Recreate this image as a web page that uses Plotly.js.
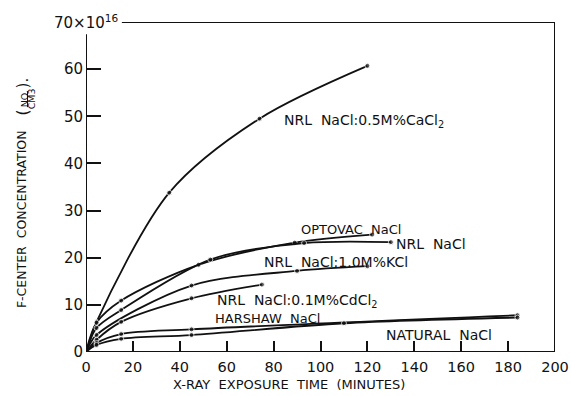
<!DOCTYPE html>
<html>
<head>
<meta charset="utf-8">
<script src="https://cdn.plot.ly/plotly-3.0.1.min.js"></script>
<style>html,body{margin:0;padding:0;background:#fff;}#chart{width:571px;height:396px;}</style>
</head>
<body>
<div id="chart"></div>
<script>
// ---- data ----
const timeCaCl2 = [1.5, 4.5, 35.5, 74, 120];
const concCaCl2 = [2.3, 6.4, 33.8, 49.5, 60.7];

const timeOptovac = [0, 4.5, 15, 48, 89, 122];
const concOptovac = [0, 6.2, 10.9, 18.5, 23.2, 24.9];

const timeNrl = [0, 4.5, 15, 53, 93, 130];
const concNrl = [0, 5.1, 8.9, 19.6, 23.1, 23.3];

const timeKCl = [0, 4.5, 45, 90, 120];
const concKCl = [0, 3.6, 14.1, 17.2, 18.2];

const timeCdCl2 = [0, 4.5, 15, 45, 75];
const concCdCl2 = [0, 2.6, 6.4, 11.4, 14.3];

const timeHarshaw = [0, 4.5, 15, 45, 184];
const concHarshaw = [0, 1.9, 3.8, 4.8, 7.8];

const timeNatural = [0, 4.5, 15, 45, 110, 184];
const concNatural = [0, 1.5, 2.8, 3.6, 6.1, 7.3];

const xTickVals = [0, 20, 40, 60, 80, 100, 120, 140, 160, 180, 200];
const yTickVals = [0, 10, 20, 30, 40, 50, 60];

const seriesLabels = [
  {text: 'NRL  NaCl:0.5M%CaCl<sub>2</sub>', x: 83.5, y: 48.9, size: 14},
  {text: 'OPTOVAC  NaCl', x: 91, y: 26.0, size: 13},
  {text: 'NRL  NaCl', x: 131.5, y: 23.0, size: 14},
  {text: 'NRL  NaCl:1.0M%KCl', x: 75, y: 19.0, size: 14},
  {text: 'NRL  NaCl:0.1M%CdCl<sub>2</sub>', x: 55, y: 10.9, size: 14},
  {text: 'HARSHAW  NaCl', x: 54, y: 7.1, size: 13},
  {text: 'NATURAL  NaCl', x: 127, y: 3.6, size: 14}
];

// ---- chart ----
const FONT = 'DejaVu Sans, Liberation Sans, Arial, sans-serif';
function series(xs, ys) {
  return {
    x: xs, y: ys, type: 'scatter', mode: 'lines+markers',
    line: {color: '#111', width: 1.8, shape: 'spline', smoothing: 0.9},
    marker: {color: '#111', size: xs.map((v, i) => i === 0 ? 0 : 5)},
    hoverinfo: 'skip', showlegend: false
  };
}
const data = [
  series(timeCaCl2, concCaCl2),
  series(timeOptovac, concOptovac),
  series(timeNrl, concNrl),
  series(timeKCl, concKCl),
  series(timeCdCl2, concCdCl2),
  series(timeHarshaw, concHarshaw),
  series(timeNatural, concNatural)
];

const frame = {color: '#111', width: 2};
const shapes = [
  {type: 'line', xref: 'x', yref: 'y', x0: 0, y0: 0, x1: 200, y1: 0, line: frame},
  {type: 'line', xref: 'x', yref: 'y', x0: 200, y0: 0, x1: 200, y1: 70, line: frame},
  {type: 'line', xref: 'x', yref: 'y', x0: 15.3, y0: 70, x1: 200, y1: 70, line: frame},
  {type: 'line', xref: 'x', yref: 'y', x0: 0, y0: 0, x1: 0, y1: 67.4, line: frame},
  // fraction bar of the y-axis unit
  {type: 'line', xref: 'paper', yref: 'paper', x0: -0.1247, y0: 0.742, x1: -0.1247, y1: 0.79,
   line: {color: '#111', width: 1}}
];

const annotations = seriesLabels.map(l => ({
  text: l.text, x: l.x, y: l.y, xref: 'x', yref: 'y',
  xanchor: 'left', yanchor: 'middle', showarrow: false,
  font: {family: FONT, size: l.size, color: '#111'}
}));
function rot(text, x, y, yanchor, size) {
  return {text: text, xref: 'paper', yref: 'paper', x: x, y: y, xanchor: 'center',
    yanchor: yanchor, textangle: -90, showarrow: false,
    font: {family: FONT, size: size, color: '#111'}};
}
annotations.push({
  text: '70×10<sup>16</sup>', xref: 'paper', yref: 'y', x: -0.005, y: 70,
  xanchor: 'right', yanchor: 'middle', showarrow: false, xshift: 36,
  font: {family: FONT, size: 15, color: '#111'}
});
annotations.push({
  text: 'X-RAY  EXPOSURE  TIME  (MINUTES)', xref: 'paper', yref: 'paper',
  x: 0.433, y: -0.097, xanchor: 'center', yanchor: 'middle', showarrow: false,
  font: {family: FONT, size: 13, color: '#111'}
});
annotations.push(rot('F-CENTER  CONCENTRATION', -0.1386, 0.127, 'bottom', 12.5));
annotations.push(rot('(', -0.1335, 0.727, 'middle', 15));
annotations.push(rot('NO.', -0.132, 0.766, 'middle', 9.5));
annotations.push(rot('CM3', -0.117, 0.766, 'middle', 9.5));
annotations.push(rot(').', -0.1335, 0.815, 'middle', 15));

const layout = {
  width: 571, height: 396,
  margin: {l: 86, r: 16, t: 22, b: 44},
  paper_bgcolor: '#fff', plot_bgcolor: '#fff',
  xaxis: {
    range: [0, 200], tickvals: xTickVals, ticks: 'inside', ticklen: 11, tickwidth: 2,
    tickcolor: '#111', showgrid: false, zeroline: false, showline: false,
    ticklabelstandoff: 4, tickfont: {family: FONT, size: 14.5, color: '#111'}
  },
  yaxis: {
    range: [0, 70], tickvals: yTickVals, ticks: 'inside', ticklen: 15, tickwidth: 2,
    tickcolor: '#111', showgrid: false, zeroline: false, showline: false,
    ticklabelstandoff: 2, tickfont: {family: FONT, size: 15, color: '#111'}
  },
  shapes: shapes,
  annotations: annotations
};

Plotly.newPlot('chart', data, layout, {staticPlot: true, displayModeBar: false});
</script>
</body>
</html>
